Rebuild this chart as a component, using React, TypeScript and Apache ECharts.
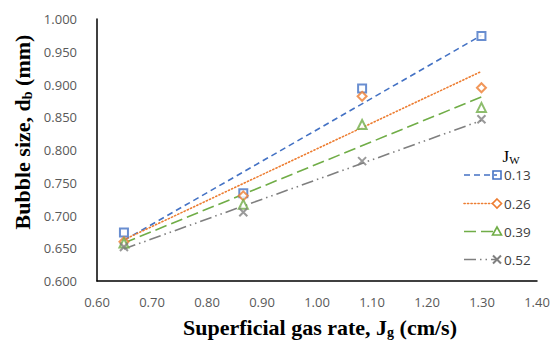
import React, { useEffect, useRef } from "react";
import * as echarts from "echarts";

const gasRate = [0.649, 0.866, 1.082, 1.299];
const seriesNames = ["0.13", "0.26", "0.39", "0.52"];
const size013 = [0.674, 0.734, 0.894, 0.974];
const size026 = [0.66, 0.73, 0.882, 0.895];
const size039 = [0.658, 0.717, 0.839, 0.865];
const size052 = [0.652, 0.705, 0.783, 0.847];
// trendline end values (at first and last gas rate)
const trend013 = [0.662, 0.975];
const trend026 = [0.663, 0.92];
const trend039 = [0.658, 0.881];
const trend052 = [0.649, 0.845];

const colors = ["#4472C4", "#ED7D31", "#70AD47", "#7F7F7F"];
const dashes: any[] = [[6, 4], [1.2, 2.3], [12, 5], [12, 4, 1.5, 4, 1.5, 4]];
const symbols = ["emptyRect", "emptyDiamond", "emptyTriangle", "path://M0,0L10,10M10,0L0,10"];
const symbolSizes = [8, 9, 9, 8];

const allSizes = [size013, size026, size039, size052];
const allTrends = [trend013, trend026, trend039, trend052];

export default function App() {
  const ref = useRef<HTMLDivElement>(null);
  useEffect(() => {
    if (!ref.current) return;
    const chart = echarts.init(ref.current, undefined, { renderer: "svg" });
    const series: any[] = [];
    allTrends.forEach((t, i) => {
      series.push({
        type: "line",
        name: seriesNames[i] + " trend",
        data: [
          [gasRate[0], t[0]],
          [gasRate[gasRate.length - 1], t[1]],
        ],
        symbol: "none",
        z: 2,
        lineStyle: { color: colors[i], width: 1.6, type: dashes[i], cap: i === 1 ? "round" : "butt" },
      });
    });
    allSizes.forEach((s, i) => {
      series.push({
        type: "scatter",
        name: seriesNames[i],
        data: s.map((v, j) => [gasRate[j], v]),
        symbol: symbols[i],
        symbolSize: symbolSizes[i],
        z: 3,
        itemStyle:
          i === 3
            ? { color: "rgba(0,0,0,0)", borderColor: colors[i], borderWidth: 2 }
            : { color: colors[i], borderColor: colors[i], borderWidth: 1.6 },
      });
    });

    const legendYs = [175, 203.5, 231.5, 259.5];
    const legendEls: any[] = [];
    legendYs.forEach((y, i) => {
      legendEls.push({
        type: "line",
        shape: { x1: 464, y1: y, x2: 497, y2: y },
        style: { stroke: colors[i], lineWidth: 1.6, lineDash: dashes[i], lineCap: i === 1 ? "round" : "butt" },
      });
      const st = { stroke: colors[i], lineWidth: 1.6, fill: "#fff" };
      if (i === 0) {
        legendEls.push({ type: "rect", shape: { x: 493, y: y - 4, width: 8, height: 8 }, style: { ...st, fill: "none" } });
      } else if (i === 1) {
        legendEls.push({ type: "polygon", shape: { points: [[497, y - 4.5], [501.5, y], [497, y + 4.5], [492.5, y]] }, style: st });
      } else if (i === 2) {
        legendEls.push({ type: "polygon", shape: { points: [[497, y - 4.5], [501.5, y + 3.5], [492.5, y + 3.5]] }, style: st });
      } else {
        legendEls.push({ type: "line", shape: { x1: 493, y1: y - 4, x2: 501, y2: y + 4 }, style: { stroke: colors[i], lineWidth: 2 } });
        legendEls.push({ type: "line", shape: { x1: 501, y1: y - 4, x2: 493, y2: y + 4 }, style: { stroke: colors[i], lineWidth: 2 } });
      }
      legendEls.push({
        type: "text",
        x: 504,
        y: y,
        style: {
          text: seriesNames[i],
          fontSize: 13.5,
          fontFamily: "Open Sans",
          fill: "#404040",
          verticalAlign: "middle",
          align: "left",
        },
      });
    });

    const titleRich = {
      a: { fontSize: 22, fontWeight: "bold", fontFamily: "Liberation Serif", fill: "#000" },
      b: { fontSize: 14, fontWeight: "bold", fontFamily: "Liberation Serif", fill: "#000", padding: [11, 0, 0, 0] },
    };

    chart.setOption({
      animation: false,
      backgroundColor: "#fff",
      grid: { left: 97, right: 23, top: 19, bottom: 60 },
      xAxis: {
        type: "value",
        min: 0.6,
        max: 1.4,
        interval: 0.1,
        axisLine: { lineStyle: { color: "#000", width: 1.5 } },
        axisTick: { show: false },
        splitLine: { show: false },
        axisLabel: {
          margin: 14,
          fontSize: 13,
          fontFamily: "Open Sans",
          color: "#595959",
          formatter: (v: number) => v.toFixed(2),
        },
      },
      yAxis: {
        type: "value",
        min: 0.6,
        max: 1.0,
        interval: 0.05,
        axisLine: { show: true, lineStyle: { color: "#000", width: 1.5 } },
        axisTick: { show: false },
        splitLine: { show: false },
        axisLabel: {
          margin: 20,
          fontSize: 13,
          fontFamily: "Open Sans",
          color: "#595959",
          formatter: (v: number) => v.toFixed(3),
        },
      },
      series,
      graphic: [
        {
          type: "text",
          x: 22,
          y: 132,
          rotation: Math.PI / 2,
          style: {
            text: "{a|Bubble size, d}{b|b}{a| (mm)}",
            align: "center",
            verticalAlign: "middle",
            fill: "#000",
            rich: titleRich,
          },
        },
        {
          type: "text",
          x: 320,
          y: 327,
          style: {
            text: "{a|Superficial gas rate, J}{b|g}{a| (cm/s)}",
            align: "center",
            verticalAlign: "middle",
            fill: "#000",
            rich: titleRich,
          },
        },
        {
          type: "text",
          x: 511,
          y: 156,
          style: {
            text: "{a|J}{b|W}",
            align: "center",
            verticalAlign: "middle",
            rich: {
              a: { fontSize: 17, fontFamily: "Liberation Serif", fill: "#000" },
              b: { fontSize: 11, fontFamily: "Liberation Serif", fill: "#000", padding: [8, 0, 0, 0] },
            },
          },
        },
        ...legendEls,
      ],
    });
    return () => chart.dispose();
  }, []);
  return <div ref={ref} style={{ position: "fixed", left: 0, top: 0, width: 560, height: 341 }} />;
}
